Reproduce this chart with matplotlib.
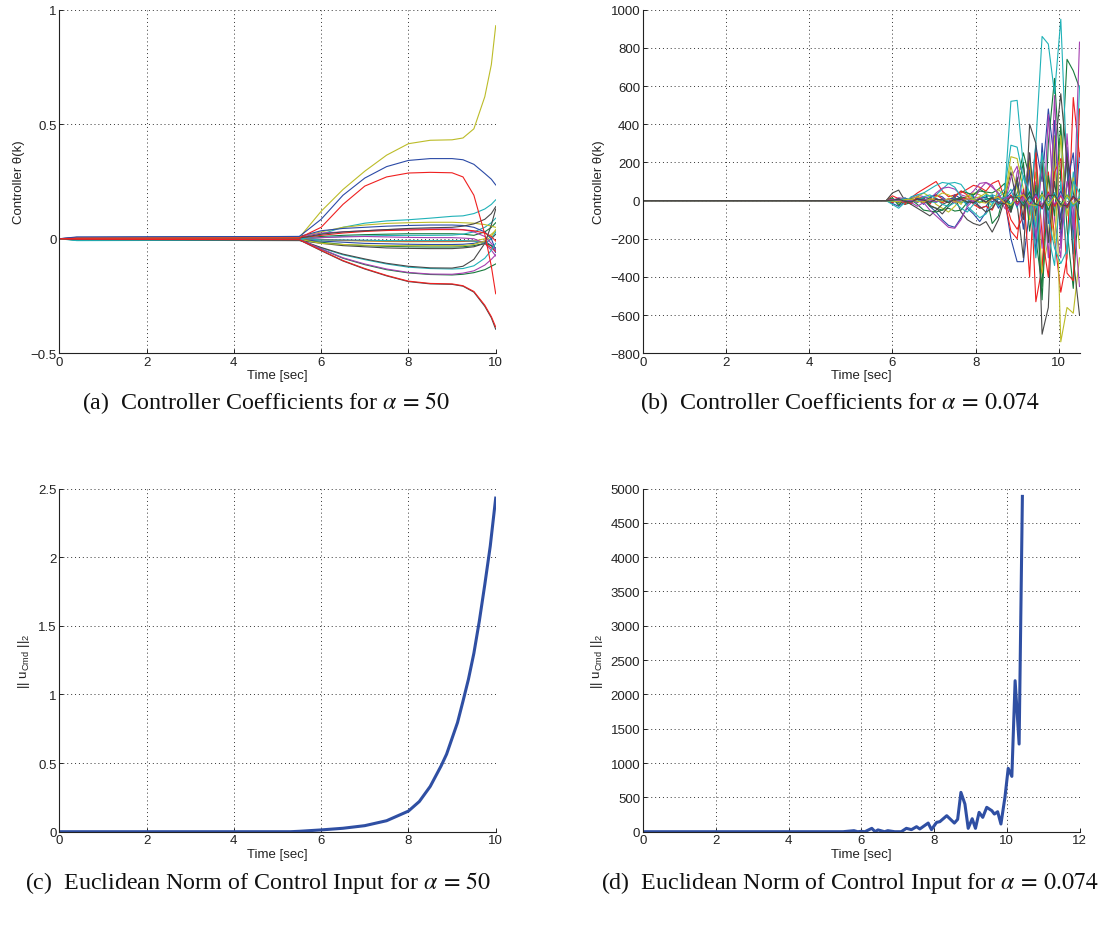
import numpy as np
import matplotlib
matplotlib.use("Agg")
import matplotlib.pyplot as plt

plt.rcParams['font.family'] = ['Liberation Sans', 'DejaVu Sans']
plt.rcParams['font.size'] = 9.5
plt.rcParams['axes.unicode_minus'] = True

# MATLAB default line colour order
BLUE = '#2b4aa6'
GREEN = '#177a3c'
RED = '#ef2020'
CYAN = '#20b2b8'
MAGENTA = '#a53fb0'
YELLOW = '#bcbc28'
GRAY = '#484848'
NORM_BLUE = '#2f4fa3'

# ---- (a) controller coefficients, alpha = 50 ----
t_a = [0, 0.4, 5.5, 6, 6.5, 7, 7.5, 8, 8.5, 9, 9.25, 9.5, 9.75, 9.9, 10]
theta_a_yellow_top = [0, 0.003, 0.005, 0.12, 0.215, 0.295, 0.365, 0.415, 0.43, 0.432, 0.44, 0.48, 0.62, 0.76, 0.93]
theta_a_blue_top = [0, 0.008, 0.01, 0.085, 0.19, 0.265, 0.315, 0.342, 0.35, 0.35, 0.345, 0.325, 0.285, 0.26, 0.235]
theta_a_red_top = [0, 0.002, 0.004, 0.05, 0.15, 0.23, 0.27, 0.287, 0.29, 0.288, 0.27, 0.19, 0.02, -0.12, -0.24]
theta_a_red_bot = [0, -0.002, -0.004, -0.05, -0.095, -0.13, -0.16, -0.185, -0.195, -0.197, -0.205, -0.23, -0.29, -0.34, -0.385]
theta_a_gray_bot = [0, -0.003, -0.005, -0.052, -0.097, -0.132, -0.162, -0.187, -0.197, -0.199, -0.207, -0.233, -0.295, -0.345, -0.395]
theta_a_cyan_low = [0, -0.008, -0.006, -0.04, -0.07, -0.091, -0.11, -0.124, -0.13, -0.132, -0.13, -0.118, -0.085, -0.05, -0.02]
theta_a_gray_low = [0, -0.003, -0.005, -0.038, -0.067, -0.088, -0.107, -0.12, -0.127, -0.128, -0.12, -0.09, -0.02, 0.06, 0.13]
theta_a_green_low = [0, -0.002, -0.004, -0.045, -0.085, -0.113, -0.135, -0.149, -0.156, -0.158, -0.155, -0.148, -0.135, -0.12, -0.11]
theta_a_magenta_low = [0, -0.001, -0.003, -0.044, -0.083, -0.11, -0.132, -0.147, -0.154, -0.155, -0.15, -0.14, -0.115, -0.09, -0.07]
theta_a_cyan_up = [0, -0.005, -0.006, 0.02, 0.05, 0.068, 0.078, 0.083, 0.09, 0.098, 0.1, 0.11, 0.13, 0.15, 0.17]
theta_a_yellow_up = [0, 0.005, 0.008, 0.03, 0.05, 0.06, 0.067, 0.07, 0.072, 0.072, 0.07, 0.068, 0.062, 0.055, 0.05]
theta_a_blue_up = [0, 0.006, 0.01, 0.035, 0.045, 0.05, 0.055, 0.058, 0.06, 0.06, 0.058, 0.05, 0.03, 0.0, -0.05]
theta_a_magenta_up = [0, 0.004, 0.006, 0.025, 0.03, 0.035, 0.04, 0.042, 0.043, 0.043, 0.04, 0.03, 0.01, -0.02, -0.05]
theta_a_red_up = [0, 0.003, 0.004, 0.015, 0.025, 0.032, 0.036, 0.038, 0.04, 0.04, 0.039, 0.035, 0.025, 0.01, -0.01]
theta_a_gray_up = [0, 0.002, 0.003, 0.02, 0.03, 0.035, 0.04, 0.045, 0.048, 0.05, 0.055, 0.065, 0.085, 0.11, 0.14]
theta_a_green_mid = [0, 0.001, 0.002, 0.01, 0.015, 0.018, 0.02, 0.022, 0.022, 0.022, 0.02, 0.015, 0.03, 0.05, 0.07]
theta_a_cyan_mid = [0, -0.002, -0.003, 0.005, 0.01, 0.012, 0.014, 0.015, 0.015, 0.016, 0.02, 0.03, 0.05, 0.07, 0.09]
theta_a_yellow_mid = [0, 0.001, 0.0, -0.005, -0.008, -0.01, -0.012, -0.013, -0.013, -0.013, -0.012, -0.01, 0.0, 0.02, 0.035]
theta_a_blue_mid = [0, -0.004, -0.005, -0.01, -0.015, -0.02, -0.022, -0.024, -0.025, -0.025, -0.024, -0.02, -0.01, -0.03, -0.06]
theta_a_green_neg = [0, -0.005, -0.007, -0.015, -0.025, -0.03, -0.033, -0.035, -0.036, -0.036, -0.035, -0.03, -0.02, -0.03, -0.04]
theta_a_magenta_mid = [0, 0.0, 0.0, 0.005, 0.008, 0.01, 0.008, 0.006, 0.005, 0.005, 0.003, 0.0, -0.02, -0.05, -0.075]
theta_a_red_mid = [0, -0.001, -0.002, -0.003, -0.006, -0.008, -0.009, -0.01, -0.01, -0.01, -0.01, -0.01, -0.02, -0.04, -0.055]
theta_a_gray_neg = [0, -0.006, -0.008, -0.02, -0.03, -0.035, -0.04, -0.042, -0.043, -0.043, -0.04, -0.035, -0.02, 0.0, 0.02]
theta_a_cyan_neg = [0, 0.002, 0.002, -0.005, -0.005, -0.006, -0.008, -0.008, -0.008, -0.008, -0.008, -0.01, -0.02, 0.0, 0.03]
theta_a_yellow_neg = [0, -0.001, -0.002, -0.02, -0.025, -0.028, -0.03, -0.03, -0.03, -0.03, -0.03, -0.025, -0.01, 0.01, 0.04]

curves_a = [
    (theta_a_green_mid, GREEN), (theta_a_cyan_mid, CYAN), (theta_a_yellow_mid, YELLOW),
    (theta_a_blue_mid, BLUE), (theta_a_green_neg, GREEN), (theta_a_magenta_mid, MAGENTA),
    (theta_a_red_mid, RED), (theta_a_gray_neg, GRAY), (theta_a_cyan_neg, CYAN),
    (theta_a_yellow_neg, YELLOW), (theta_a_cyan_up, CYAN), (theta_a_yellow_up, YELLOW),
    (theta_a_blue_up, BLUE), (theta_a_magenta_up, MAGENTA), (theta_a_red_up, RED),
    (theta_a_gray_up, GRAY), (theta_a_cyan_low, CYAN), (theta_a_gray_low, GRAY),
    (theta_a_green_low, GREEN), (theta_a_magenta_low, MAGENTA), (theta_a_gray_bot, GRAY),
    (theta_a_red_bot, RED), (theta_a_yellow_top, YELLOW), (theta_a_blue_top, BLUE),
    (theta_a_red_top, RED),
]

# ---- (b) controller coefficients, alpha = 0.074 ----
# flat start, then samples every 0.15 s from 5.85 s to 10.5 s
t_b_start = [0, 0.4, 5.7]
t_b_grid = np.round(np.arange(5.85, 10.51, 0.15), 2)
theta_b_cyan = [0, 10, -20, 5, 0, 10, 15, 20, 30, 60, 90, 95, 85, 40, 20, 10, 20, 30, 20, 40,
                520, 525, 180, -50, 300, 860, 820, 560, 950, 150, -280, 600]
theta_b_green = [0, -10, 5, -20, -10, 10, 5, -30, -40, -50, -40, -55, -50, -10, 30, 50, 45, 40, 60, 90,
                 -50, 100, 250, 120, -200, -450, 300, 640, 100, 740, 680, 590]
theta_b_magenta = [0, 5, 10, -10, 15, 30, 20, 10, 40, 65, 70, 60, 30, 20, 50, 90, 95, 80, 30, -40,
                   -60, 150, 180, -80, 100, -250, 450, -100, -300, 350, -150, 830]
theta_b_gray = [0, 40, 55, 0, -20, -40, -60, -80, -50, -20, -5, 20, -60, -100, -120, -130, -110, -165, -100, 10,
                150, -20, -300, 400, 300, -700, -560, 250, 560, 200, -300, -600]
theta_b_yellow = [0, 10, -15, 5, -20, 20, 40, 20, -20, -40, -60, -30, 10, 20, 40, 30, 10, -30, 60, 20,
                  230, 220, 60, -100, 150, -380, -200, 340, -740, -560, -590, -300]
theta_b_red = [0, 25, 10, -20, 15, 40, 60, 80, 100, 50, 20, 30, 40, 60, 80, 70, 50, 90, 105, 10,
               -100, -150, -80, 200, -530, -350, 150, -200, -480, -300, 540, 230]
theta_b_blue = [0, -15, -30, -5, 10, 20, 10, -30, -60, -100, -130, -140, -90, -40, -70, -110, -60, 30, -40, 10,
                -200, -320, -320, -50, 290, 100, 480, 200, -100, 280, -200, 250]
theta_b_violet = [0, -5, 15, 10, -10, -30, -10, -50, -80, -110, -140, -145, -100, -30, 0, 60, 95, 70, 40, -20,
                  120, 180, -20, 250, -200, 200, -300, 550, -250, 100, -50, -450]
theta_b_cyan2 = [0, -20, -40, -10, 20, 30, 40, 60, 80, 95, 90, 70, 20, -30, -60, -90, -70, -20, 30, 60,
                 290, 280, 120, 20, -300, 50, -180, -340, 100, -280, 150, -150]
theta_b_green2 = [0, 15, -25, 10, 5, -20, -50, -55, -60, -50, -20, 20, 50, 40, 30, 60, 40, -120, -80, 50,
                  -60, 40, 200, -160, 80, -520, 130, -80, 400, -150, -460, 60]
theta_b_red2 = [0, -10, 10, 5, -15, 20, 10, -20, 30, 10, -10, 20, 50, 30, -20, -40, -30, -50, 20, 0,
                -160, -200, 60, -400, 250, -180, -400, 150, 220, -380, -420, 480]
theta_b_blue2 = [0, 5, -10, 15, -5, 10, -20, 15, 30, 20, -10, 30, 10, -20, 20, -40, -30, 20, -10, 5,
                 40, 90, -150, 160, -280, 300, -120, 420, -200, 90, 250, -180]
theta_b_yellow2 = [0, 5, 0, -10, 10, 20, 5, -10, 20, 40, 30, 10, -20, 30, 10, 20, 40, 10, -20, 10,
                   180, 60, -40, 210, -120, 230, 30, -220, 340, -80, 120, -250]
theta_b_gray2 = [0, 0, 10, -10, 5, -5, 15, -25, -40, -70, -30, 0, 20, 10, -10, -30, -60, -40, 10, 0,
                 -60, 120, -100, 250, -80, 200, -220, 100, -150, 230, 40, -100]
theta_b_cyan3 = [0, -5, 5, 10, 0, -10, 20, 30, 10, -20, -30, -10, -40, -60, -20, 10, 30, 20, -30, 10,
                 60, -40, 130, 40, -140, 250, -90, -250, -330, -260, 100, 40]
theta_b_small1 = [0, 3, -5, 8, -6, 10, 5, -8, 12, -5, 8, 15, -10, 6, -12, 10, 18, -6, 14, -10,
                  25, -30, 40, -20, 35, -45, 30, -25, 50, -40, 20, -15]
theta_b_small2 = [0, -4, 6, -3, 9, -7, 4, 12, -6, 10, -8, 5, 14, -9, 7, -12, 6, 15, -20, 18,
                  -35, 25, -15, 45, -30, 40, -50, 35, -20, 30, -25, 10]
theta_b_small3 = [0, 5, -3, -8, 4, 6, -10, 5, 8, -12, 10, -5, 7, 12, -8, 15, -10, 8, 20, -15,
                  30, -20, 35, -25, 20, -40, 45, -30, 25, -35, 15, 5]
theta_b_small4 = [0, -2, 4, 6, -5, -3, 8, -6, -10, 7, -4, 9, -8, -5, 10, -7, 12, -14, 9, 16,
                  -18, 28, -22, 15, -38, 30, -20, 42, -28, 18, -30, 20]
theta_b_small5 = [0, 6, 2, -6, 3, -9, 6, 3, -7, 9, 5, -11, 4, 8, -6, 13, -9, 11, -16, 12,
                  22, -26, 18, -32, 28, -22, 36, -18, 30, -24, 26, -12]
theta_b_small6 = [0, -3, -6, 5, 7, -4, -8, 9, 5, -6, 11, -7, -9, 10, 6, -8, -13, 10, 17, -11,
                  -24, 19, 30, -21, -26, 33, -27, 22, -34, 27, -19, 8]
theta_b_small7 = [0, 2, 7, -4, -7, 8, 3, -9, 6, 4, -10, 8, 5, -7, -11, 9, -8, 14, -12, -17,
                  20, 16, -28, 24, -19, -31, 26, 29, -22, -28, 24, -14]

curves_b = [
    (theta_b_blue, BLUE), (theta_b_green, GREEN), (theta_b_red, RED), (theta_b_cyan, CYAN),
    (theta_b_magenta, MAGENTA), (theta_b_yellow, YELLOW), (theta_b_gray, GRAY),
    (theta_b_blue2, BLUE), (theta_b_green2, GREEN), (theta_b_red2, RED), (theta_b_cyan2, CYAN),
    (theta_b_violet, MAGENTA), (theta_b_yellow2, YELLOW), (theta_b_gray2, GRAY),
    (theta_b_cyan3, CYAN), (theta_b_small1, BLUE), (theta_b_small2, GREEN),
    (theta_b_small3, RED), (theta_b_small4, CYAN), (theta_b_small5, MAGENTA),
    (theta_b_small6, YELLOW), (theta_b_small7, GRAY),
]

# ---- (c) norm of control input, alpha = 50 ----
t_c = [0, 5.3, 5.5, 6, 6.5, 7, 7.5, 8, 8.25, 8.5, 8.75, 8.875, 9, 9.125, 9.25, 9.375,
       9.5, 9.625, 9.75, 9.875, 10]
u_c = [0, 0, 0.003, 0.013, 0.025, 0.044, 0.08, 0.15, 0.22, 0.33, 0.48, 0.565, 0.68, 0.795,
       0.95, 1.11, 1.30, 1.535, 1.80, 2.08, 2.43]

# ---- (d) norm of control input, alpha = 0.074 ----
t_d = [0, 5.5, 5.8, 5.9, 6.0, 6.1, 6.29, 6.38, 6.46, 6.64, 6.73, 6.92, 7.1, 7.24, 7.38, 7.52,
       7.61, 7.84, 7.93, 8.07, 8.16, 8.35, 8.56, 8.65, 8.74, 8.85, 8.94, 9.05, 9.14, 9.24,
       9.34, 9.45, 9.59, 9.66, 9.75, 9.84, 9.95, 10.04, 10.14, 10.23, 10.34, 10.43]
u_d = [0, 0, 15, 0, 5, 0, 49, 0, 26, 0, 15, 0, 0, 49, 30, 73,
       40, 126, 30, 136, 146, 233, 126, 180, 573, 403, 49, 189, 49, 282,
       209, 355, 306, 257, 291, 112, 500, 923, 806, 2200, 1277, 4885]

W, H = 1107, 928
fig = plt.figure(figsize=(W / 100, H / 100), dpi=100)


def add_axes(left, top, right, bottom):
    return fig.add_axes([left / W, 1 - bottom / H, (right - left) / W, (bottom - top) / H])


def style(ax, xlim, ylim, xticks, yticks, yticklabels=None):
    ax.set_xlim(*xlim)
    ax.set_ylim(*ylim)
    ax.set_xticks(xticks)
    ax.set_yticks(yticks)
    if yticklabels is not None:
        ax.set_yticklabels(yticklabels)
    ax.set_axisbelow(True)
    ax.grid(True, linestyle=(0, (1, 3)), color='#333333', linewidth=0.7)
    for side in ['top', 'right']:
        ax.spines[side].set_visible(False)
    for side in ['left', 'bottom']:
        ax.spines[side].set_color('#222222')
        ax.spines[side].set_linewidth(0.8)
    ax.tick_params(direction='in', length=3, width=0.7, colors='#222222', pad=2,
                   labelsize=9.5)
    ax.set_xlabel('Time [sec]', labelpad=1, color='#222222')


ax_a = add_axes(59.3, 10.7, 495.7, 354.3)
for vals, col in curves_a:
    ax_a.plot(t_a, vals, color=col, linewidth=0.8)
style(ax_a, (0, 10), (-0.5, 1), [0, 2, 4, 6, 8, 10], [-0.5, 0, 0.5, 1],
      ['\u22120.5', '0', '0.5', '1'])
ax_a.set_ylabel('Controller \u03b8(k)', color='#222222')

ax_b = add_axes(643, 10.7, 1079.5, 354.3)
for vals, col in curves_b:
    ax_b.plot(list(t_b_start) + list(t_b_grid), [0, 0, 0] + vals, color=col, linewidth=0.8)
style(ax_b, (0, 10.5), (-800, 1000), [0, 2, 4, 6, 8, 10], np.arange(-800, 1001, 200))
ax_b.set_ylabel('Controller \u03b8(k)', color='#222222')

ax_c = add_axes(59.3, 489.5, 495.7, 832.7)
ax_c.plot(t_c, u_c, color=NORM_BLUE, linewidth=2.2)
style(ax_c, (0, 10), (0, 2.5), [0, 2, 4, 6, 8, 10], [0, 0.5, 1, 1.5, 2, 2.5],
      ['0', '0.5', '1', '1.5', '2', '2.5'])
ax_c.set_ylabel(r'|| u$_{\mathregular{Cmd}}$ ||$_{\mathregular{2}}$', color='#222222')

ax_d = add_axes(643, 489.5, 1079.5, 832.7)
ax_d.plot(t_d, u_d, color=NORM_BLUE, linewidth=2.2)
style(ax_d, (0, 12), (0, 5000), [0, 2, 4, 6, 8, 10, 12], np.arange(0, 5001, 500))
ax_d.set_ylabel(r'|| u$_{\mathregular{Cmd}}$ ||$_{\mathregular{2}}$', color='#222222')

captions = [
    (266, 403, r'(a)  Controller Coefficients for $\alpha\,=\,50$'),
    (840, 403, r'(b)  Controller Coefficients for $\alpha\,=\,0.074$'),
    (258, 883, r'(c)  Euclidean Norm of Control Input for $\alpha\,=\,50$'),
    (850, 883, r'(d)  Euclidean Norm of Control Input for $\alpha\,=\,0.074$'),
]
for cx, cy, txt in captions:
    fig.text(cx / W, 1 - cy / H, txt, ha='center', va='center', fontsize=17.3,
             family='Liberation Serif', math_fontfamily='stix', color='#111111')

fig.savefig('out.png', dpi=100)
